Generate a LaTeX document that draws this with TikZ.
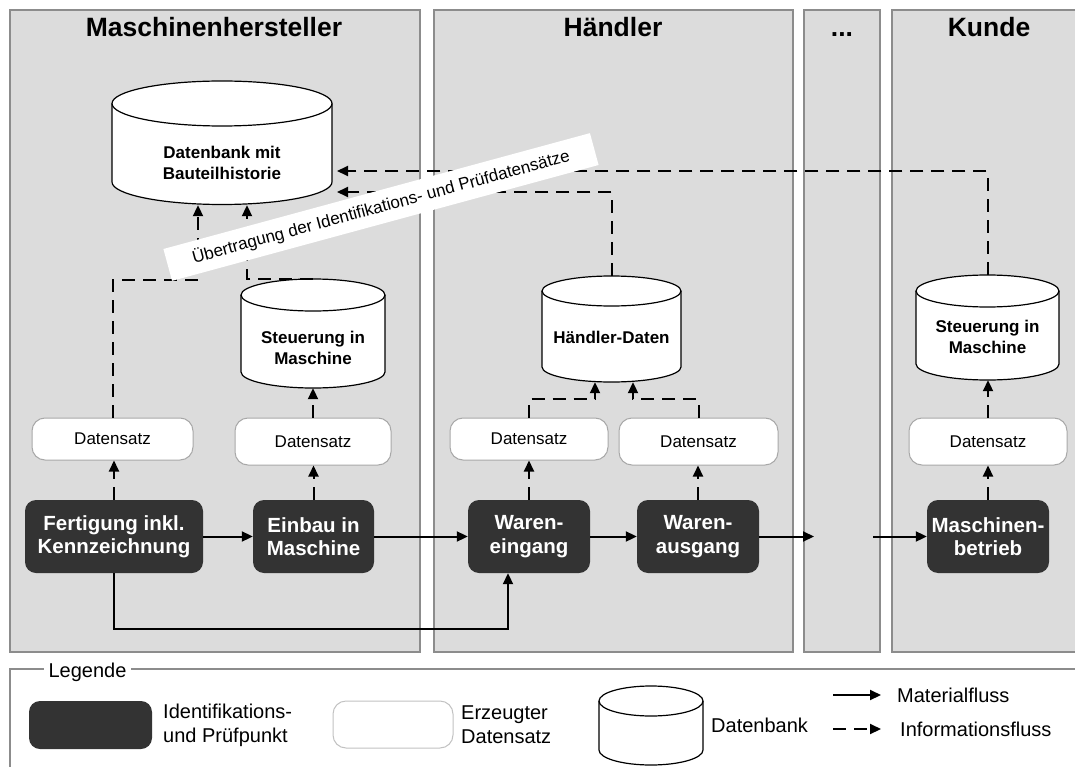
\documentclass[tikz,border=0pt]{standalone}
\usepackage{fontspec}
\setmainfont{Liberation Sans}
\usetikzlibrary{arrows.meta}
\definecolor{panelgray}{HTML}{DCDCDC}
\definecolor{bordergray}{HTML}{8C8C8C}
\definecolor{darkbox}{HTML}{333333}
\definecolor{dsgray}{HTML}{A8A8A8}
\tikzset{
  panel/.style={fill=panelgray, draw=bordergray, line width=2pt},
  ptitle/.style={font=\fontsize{26.5}{30}\selectfont\bfseries, anchor=base, inner sep=0pt},
  ipoint/.style={fill=darkbox, draw=none, rounded corners=11pt, text=white,
    font=\fontsize{20.5}{23.5}\selectfont\bfseries, align=center, inner sep=0pt},
  dsbox/.style={fill=white, draw=dsgray, line width=1pt, rounded corners=13pt,
    font=\fontsize{17}{20}\selectfont, inner sep=0pt},
  dbtext/.style={font=\fontsize{17}{21}\selectfont\bfseries, align=center, inner sep=0pt},
  dbarea/.style={inner sep=0pt, draw=none},
  dbshape/.style={fill=white, draw=black, line width=1.2pt},
  mflow/.style={line width=2pt, -{Triangle[length=11pt,width=10pt]}},
  iflow/.style={line width=2pt, dash pattern=on 13pt off 8pt, -{Triangle[length=11pt,width=10pt]}},
  banner/.style={fill=white, draw=none, rotate=15.2, minimum width=442pt, minimum height=33pt,
    font=\fontsize{17}{20}\selectfont, inner sep=0pt},
  legtext/.style={font=\fontsize{20}{24}\selectfont, align=left, inner sep=0pt, anchor=west},
  legframe/.style={draw=bordergray, line width=2pt},
}
% cylinder: cx, top-ellipse centre y, bottom-arc centre y, rx, ry
\newcommand{\dbcylinder}[5]{%
  \path[dbshape] (#1-#4,#2) -- (#1-#4,#3)
    arc[start angle=180,end angle=360,x radius=#4pt,y radius=#5pt]
    -- (#1+#4,#2)
    arc[start angle=0,end angle=180,x radius=#4pt,y radius=#5pt] -- cycle;
  \draw[dbshape, fill=none] (#1-#4,#2)
    arc[start angle=180,end angle=360,x radius=#4pt,y radius=#5pt];
}
\begin{document}
\begin{tikzpicture}[x=1pt,y=-1pt]
\useasboundingbox (0,0) rectangle (1075,767);

% ---------- panels ----------
\path[panel] (10,10) rectangle (420,652);
\path[panel] (434,10) rectangle (793,652);
\path[panel] (804,10) rectangle (880,652);
\path[panel] (892,10) rectangle (1090,652);
\node[ptitle] (t1) at (214,37) {Maschinenhersteller};
\node[ptitle] (t2) at (613,37) {Händler};
\node[ptitle] (t3) at (842,37) {...};
\node[ptitle] (t4) at (989,37) {Kunde};

% ---------- databases ----------
\dbcylinder{222}{103.5}{182}{110}{22.5}
\node[dbarea, minimum width=220pt, minimum height=124pt] (bigdb) at (222,143) {};
\node[dbtext] (bigdbtxt) at (222,163) {Datenbank mit\\Bauteilhistorie};

\dbcylinder{313}{295}{372}{72}{16}
\node[dbarea, minimum width=144pt, minimum height=109pt] (mdb) at (313,333.5) {};
\node[dbtext] (mdbtxt) at (313,347.5) {Steuerung in\\Maschine};

\dbcylinder{611.5}{291}{367}{69.5}{15}
\node[dbarea, minimum width=139pt, minimum height=106pt] (hdb) at (611.5,329) {};
\node[dbtext] (hdbtxt) at (611.5,337) {Händler-Daten};

\dbcylinder{987.5}{291}{364}{71.5}{16}
\node[dbarea, minimum width=143pt, minimum height=105pt] (kdb) at (987.5,327.5) {};
\node[dbtext] (kdbtxt) at (987.5,336.5) {Steuerung in\\Maschine};

% ---------- Datensatz boxes ----------
\node[dsbox, minimum width=161pt, minimum height=42pt] (ds1) at (112.5,439) {Datensatz};
\node[dsbox, minimum width=156pt, minimum height=47pt] (ds2) at (313,441.5) {Datensatz};
\node[dsbox, minimum width=158pt, minimum height=42pt] (ds3) at (529,439) {Datensatz};
\node[dsbox, minimum width=159pt, minimum height=47pt] (ds4) at (698.5,441.5) {Datensatz};
\node[dsbox, minimum width=158pt, minimum height=47pt] (ds5) at (988,441.5) {Datensatz};

% ---------- identification points ----------
\node[ipoint, minimum width=178pt, minimum height=73pt] (b1) at (114,536.5) {Fertigung inkl.\\Kennzeichnung};
\node[ipoint, minimum width=121pt, minimum height=73pt] (b2) at (313.5,536.5) {Einbau in\\Maschine};
\node[ipoint, minimum width=122pt, minimum height=73pt] (b3) at (529,536.5) {Waren-\\eingang};
\node[ipoint, minimum width=122pt, minimum height=73pt] (b4) at (698,536.5) {Waren-\\ausgang};
\node[ipoint, minimum width=122pt, minimum height=73pt] (b5) at (988,536.5) {Maschinen-\\betrieb};

% ---------- material flow ----------
\coordinate (gap1) at (814,536.5);
\coordinate (gap2) at (873,536.5);
\coordinate (fb) at (508,629);
\draw[mflow] (b1.east) -- (b2.west);
\draw[mflow] (b2.east) -- (b3.west);
\draw[mflow] (b3.east) -- (b4.west);
\draw[mflow] (b4.east) -- (gap1);
\draw[mflow] (gap2) -- (b5.west);
\draw[mflow] (b1.south) |- (fb) -- (fb |- b3.south);

% ---------- information flow ----------
\draw[iflow] (b1.north) -- (b1.north |- ds1.south);
\draw[iflow] (b2.north) -- (b2.north |- ds2.south);
\draw[iflow] (b3.north) -- (b3.north |- ds3.south);
\draw[iflow] (b4.north) -- (b4.north |- ds4.south);
\draw[iflow] (b5.north) -- (b5.north |- ds5.south);
\draw[iflow] (ds2.north) -- (ds2.north |- mdb.south);
\draw[iflow] (ds5.north) -- (ds5.north |- kdb.south);

\coordinate (j1) at (198,280);
\coordinate (j2) at (247,280);
\draw[iflow] (ds1.north) |- (j1) -- (j1 |- bigdb.south);
\draw[iflow] (mdb.north) -| (j2 |- bigdb.south);

\coordinate (h1) at (595,399);
\coordinate (h2) at (633,399);
\draw[iflow] (ds3.north) |- (h1) -- (h1 |- hdb.south);
\draw[iflow] (ds4.north) |- (h2) -- (h2 |- hdb.south);

\coordinate (in1) at (337,171);
\coordinate (in2) at (337,192);
\draw[iflow] (kdb.north) |- (in1);
\draw[iflow] (hdb.north) |- (in2);

% ---------- banner ----------
\node[banner] (uebertragung) at (381,207) {Übertragung der Identifikations- und Prüfdatensätze};

% ---------- legend ----------
\draw[legframe] (10,800) -- (10,669) -- (1090,669);
\node[fill=white, inner xsep=5pt, inner ysep=2pt, font=\fontsize{20}{24}\selectfont] (legtitle) at (87.5,672) {Legende};

\node[ipoint, minimum width=123pt, minimum height=48pt] (lb1) at (90.5,725) {};
\node[legtext] (lt1) at (163,725) {Identifikations-\\und Prüfpunkt};

\node[dsbox, draw=dsgray!70, minimum width=120pt, minimum height=47pt] (lb2) at (393,724.5) {};
\node[legtext] (lt2) at (461,725) {Erzeugter\\Datensatz};

\dbcylinder{651}{701}{750}{52}{15}
\node[dbarea, minimum width=104pt, minimum height=79pt] (ldb) at (651,725.5) {};
\node[legtext] (lt3) at (711,725) {Datenbank};

\coordinate (la1) at (833,695);
\coordinate (la2) at (881,695);
\coordinate (lb1s) at (833,729);
\coordinate (lb2e) at (881,729);
\draw[mflow] (la1) -- (la2);
\draw[iflow] (lb1s) -- (lb2e);
\node[legtext] (lt4) at (897,695) {Materialfluss};
\node[legtext] (lt5) at (900,729) {Informationsfluss};
\end{tikzpicture}
\end{document}
